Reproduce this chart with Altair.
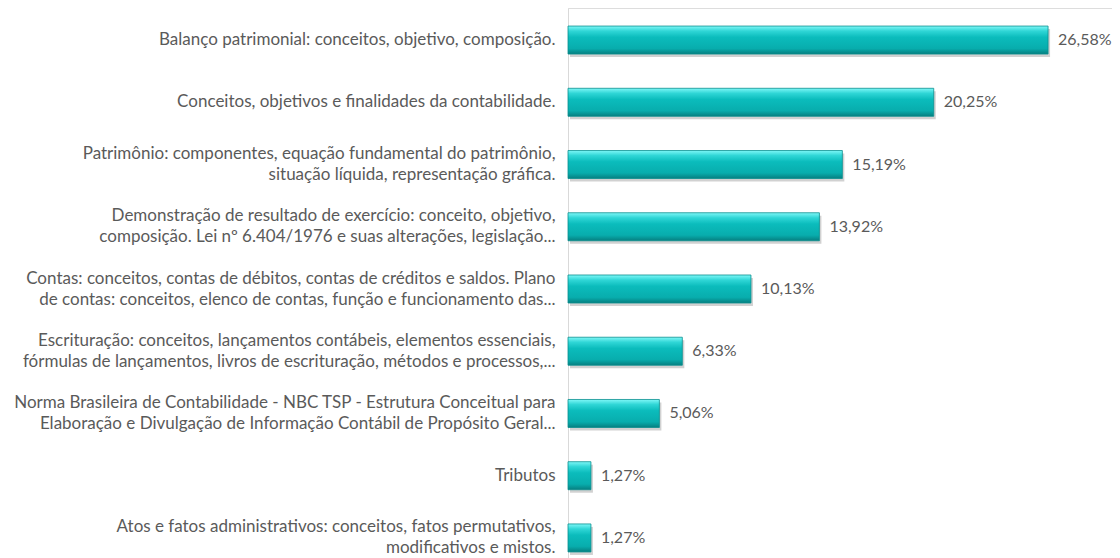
import altair as alt
import pandas as pd

categories = [
    "Balanço patrimonial: conceitos, objetivo, composição.",
    "Conceitos, objetivos e finalidades da contabilidade.",
    "Patrimônio: componentes, equação fundamental do patrimônio,\nsituação líquida, representação gráfica.",
    "Demonstração de resultado de exercício: conceito, objetivo,\ncomposição. Lei nº 6.404/1976 e suas alterações, legislação...",
    "Contas: conceitos, contas de débitos, contas de créditos e saldos. Plano\nde contas: conceitos, elenco de contas, função e funcionamento das...",
    "Escrituração: conceitos, lançamentos contábeis, elementos essenciais,\nfórmulas de lançamentos, livros de escrituração, métodos e processos,...",
    "Norma Brasileira de Contabilidade - NBC TSP - Estrutura Conceitual para\nElaboração e Divulgação de Informação Contábil de Propósito Geral...",
    "Tributos",
    "Atos e fatos administrativos: conceitos, fatos permutativos,\nmodificativos e mistos.",
]
values = [26.58, 20.25, 15.19, 13.92, 10.13, 6.33, 5.06, 1.27, 1.27]
labels = ["26,58%", "20,25%", "15,19%", "13,92%", "10,13%", "6,33%", "5,06%", "1,27%", "1,27%"]

df = pd.DataFrame({"cat": categories, "val": values, "lab": labels})

FONT = "Lato"
GRAY = "#5a5a5a"

y_enc = alt.Y(
    "cat:N",
    sort=categories,
    title=None,
    scale=alt.Scale(paddingInner=0.55, paddingOuter=0.29),
    axis=alt.Axis(
        labelExpr="split(datum.label, '\\n')",
        labelFont=FONT,
        labelFontSize=17,
        labelColor=GRAY,
        labelLineHeight=21,
        labelPadding=13,
        labelLimit=600,
        labelOffset={"condition": {"test": "indexof(datum.value, '\\n') >= 0", "value": -10.5}, "value": 0},
        ticks=False,
        domainColor="#d9d9d9",
        domainWidth=1,
    ),
)
x_enc = alt.X("val:Q", title=None, scale=alt.Scale(domain=[0, 30.12], nice=False), axis=None)

gradient = {
    "gradient": "linear",
    "x1": 0, "y1": 0, "x2": 0, "y2": 1,
    "stops": [
        {"offset": 0, "color": "#7ff7f7"},
        {"offset": 0.18, "color": "#2fd6d6"},
        {"offset": 0.4, "color": "#0bbcbc"},
        {"offset": 0.8, "color": "#08adad"},
        {"offset": 1, "color": "#067f80"},
    ],
}

shadow = alt.Chart(df).mark_bar(color="#9a9a9a", opacity=0.45, yOffset=3, xOffset=2).encode(x=x_enc, y=y_enc)
bars = alt.Chart(df).mark_bar(color=gradient, stroke="#0a8f8f", strokeWidth=0.8).encode(x=x_enc, y=y_enc)
text = alt.Chart(df).mark_text(
    align="left", baseline="middle", dx=10, font=FONT, fontSize=16, color=GRAY
).encode(x=x_enc, y=y_enc, text="lab:N")

chart = (
    alt.layer(shadow, bars, text)
    .properties(
        width=544,
        height=562,
        autosize=alt.AutoSizeParams(type="none"),
        padding={"left": 560, "top": 0, "right": 0, "bottom": 0},
    )
    .configure_view(stroke=None)
    .configure(background="white")
)

chart.save("out.html", embed_options={"renderer": "svg", "actions": False})
